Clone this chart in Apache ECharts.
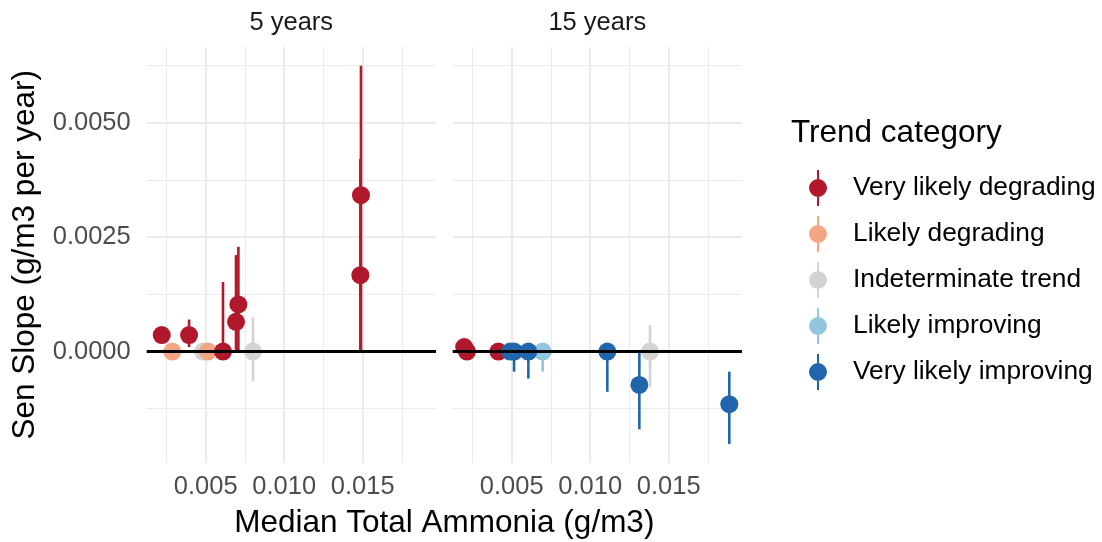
<!DOCTYPE html>
<html>
<head>
<meta charset="utf-8">
<script src="https://cdn.jsdelivr.net/npm/echarts@6/dist/echarts.min.js"></script>
<style>
  html, body { margin: 0; padding: 0; background: #fff; }
  #chart { width: 1102px; height: 542px; }
</style>
</head>
<body>
<div id="chart"></div>
<script>
// legend order
const categories = [
    "Very likely degrading",
    "Likely degrading",
    "Indeterminate trend",
    "Likely improving",
    "Very likely improving",
];
const palette = ["#B2182B", "#F4A582", "#D3D3D3", "#92C5DE", "#2166AC"];
const drawOrder = [2, 1, 0, 3, 4];
const panels = ["5 years", "15 years"];

const xTicks = [0.005, 0.010, 0.015];
const xMinor = [0.0025, 0.0075, 0.0125, 0.0175];
const yTicks = [0, 0.0025, 0.005];
const yMinor = [-0.00125, 0.00125, 0.00375, 0.00625];

// 5 years
const x5 = [0.0022, 0.00287, 0.00394, 0.00483, 0.00514, 0.0061, 0.00693, 0.00708, 0.00801, 0.01489, 0.01485];
const slope5 = [0.00036, 0, 0.00036, 0, 0, 0, 0.00065, 0.00103, 0, 0.00342, 0.00167];
const lower5 = [0.0002, -0.0001, 0.0001, -0.0001, -0.00005, 0, 0, 0, -0.00065, 0, 0];
const upper5 = [0.0005, 0.0001, 0.0007, 0.0001, 0.00005, 0.00152, 0.00211, 0.00229, 0.00075, 0.00625, 0.00421];
const cat5 = [0, 1, 0, 2, 1, 0, 0, 0, 2, 0, 0];

// 15 years
const x15 = [0.00197, 0.00215, 0.00415, 0.0049, 0.00515, 0.00606, 0.00697, 0.01109, 0.01313, 0.01381, 0.01886];
const slope15 = [0.0001, 0, 0, 0, 0, 0, 0, 0, -0.00073, 0, -0.00115];
const lower15 = [0.00005, -0.00003, -0.00003, -0.0001, -0.00044, -0.00059, -0.00044, -0.00088, -0.0017, -0.00078, -0.00202];
const upper15 = [0.00018, 0.00005, 0.00003, 0.00005, 0, 0, 0.00003, 0, 0, 0.00058, -0.00044];
const cat15 = [0, 0, 0, 4, 4, 4, 3, 4, 4, 2, 4];

const panelData = [
    { x: x5, y: slope5, lo: lower5, hi: upper5, cat: cat5 },
    { x: x15, y: slope15, lo: lower15, hi: upper15, cat: cat15 },
];

const font = "Liberation Sans, Arial, sans-serif";
const xRange = [0.00124, 0.01967];
const yRange = [-0.00243, 0.00666];
const gridLine = "#EBEBEB";
const keyIcon = "path://M8 0L10 0L10 36L8 36Z M0 18A9 9 0 1 1 18 18A9 9 0 1 1 0 18Z";

document.addEventListener("DOMContentLoaded", () => {
    const grid = [];
    const xAxis = [];
    const yAxis = [];
    const barSeries = [];
    const pointSeries = [];
    const zeroSeries = [];

    panels.forEach((panel, p) => {
        grid.push({ left: 146.7 + p * 306, top: 47, width: 289.3, height: 415.7 });

        // major axes (labels + thicker grid), minor axes (thin grid only)
        xAxis.push({
            type: "value", gridIndex: p, min: xRange[0], max: xRange[1], position: "bottom",
            axisLine: { show: false },
            axisTick: { show: false, customValues: xTicks },
            axisLabel: {
                customValues: xTicks, formatter: (v) => v.toFixed(3),
                color: "#4D4D4D", fontSize: 25.5, fontFamily: font, margin: 11,
            },
            splitLine: { show: true, lineStyle: { color: gridLine, width: 2 } },
        });
        xAxis.push({
            type: "value", gridIndex: p, min: xRange[0], max: xRange[1], position: "top",
            axisLine: { show: false },
            axisTick: { show: false, customValues: xMinor },
            axisLabel: { show: false },
            splitLine: { show: true, lineStyle: { color: gridLine, width: 1 } },
        });
        yAxis.push({
            type: "value", gridIndex: p, min: yRange[0], max: yRange[1], position: "left",
            axisLine: { show: false },
            axisTick: { show: false, customValues: yTicks },
            axisLabel: {
                show: p === 0, customValues: yTicks, formatter: (v) => v.toFixed(4),
                color: "#4D4D4D", fontSize: 25.5, fontFamily: font, margin: 16,
            },
            splitLine: { show: true, lineStyle: { color: gridLine, width: 2 } },
        });
        yAxis.push({
            type: "value", gridIndex: p, min: yRange[0], max: yRange[1], position: "right",
            axisLine: { show: false },
            axisTick: { show: false, customValues: yMinor },
            axisLabel: { show: false },
            splitLine: { show: true, lineStyle: { color: gridLine, width: 1 } },
        });

        const d = panelData[p];
        drawOrder.forEach((c) => {
            const rows = [];
            d.x.forEach((x, i) => {
                if (d.cat[i] === c) rows.push(i);
            });
            barSeries.push({
                type: "custom", name: categories[c], xAxisIndex: 2 * p, yAxisIndex: 2 * p,
                z: 1, silent: true, itemStyle: { color: palette[c] },
                data: rows.map((i) => [d.x[i], d.lo[i], d.hi[i]]),
                encode: { x: 0, y: [1, 2] },
                renderItem: (params, api) => {
                    const a = api.coord([api.value(0), api.value(1)]);
                    const b = api.coord([api.value(0), api.value(2)]);
                    return {
                        type: "line",
                        shape: { x1: a[0], y1: a[1], x2: b[0], y2: b[1] },
                        style: { stroke: palette[c], lineWidth: 2.6 },
                    };
                },
            });
            pointSeries.push({
                type: "scatter", name: categories[c], xAxisIndex: 2 * p, yAxisIndex: 2 * p,
                z: 2, silent: true, symbolSize: 18,
                itemStyle: { color: palette[c], opacity: 1 },
                data: rows.map((i) => [d.x[i], d.y[i]]),
            });
        });

        zeroSeries.push({
            type: "line", xAxisIndex: 2 * p, yAxisIndex: 2 * p, z: 3, data: [],
            markLine: {
                silent: true, symbol: "none", label: { show: false },
                lineStyle: { color: "#000", width: 2.8, type: "solid" },
                data: [{ yAxis: 0 }],
            },
        });
    });

    const text = (t, x, y, size, color, align, rotation) => ({
        type: "text", x, y, rotation: rotation || 0,
        style: {
            text: t, fontSize: size, fontFamily: font, fill: color,
            align: align || "center", verticalAlign: "middle",
        },
    });

    echarts.init(document.querySelector("#chart")).setOption({
        animation: false,
        backgroundColor: "#fff",
        grid,
        xAxis,
        yAxis,
        legend: {
            orient: "vertical", left: 804, top: 165,
            itemWidth: 18, itemHeight: 36, itemGap: 10,
            selectedMode: false,
            data: categories.map((n) => ({ name: n, icon: keyIcon })),
            textStyle: { fontSize: 26.3, fontFamily: font, color: "#000", padding: [0, 0, 0, 21] },
        },
        graphic: [
            text(panels[0], 291.3, 23, 25.5, "#1A1A1A"),
            text(panels[1], 597.3, 23, 25.5, "#1A1A1A"),
            text("Median Total Ammonia (g/m3)", 444.3, 523, 31.5, "#000"),
            text("Sen Slope (g/m3 per year)", 25, 254.8, 31.5, "#000", "center", Math.PI / 2),
            text("Trend category", 791, 133, 31.5, "#000", "left"),
        ],
        series: [...barSeries, ...pointSeries, ...zeroSeries],
    });
});
</script>
</body>
</html>
